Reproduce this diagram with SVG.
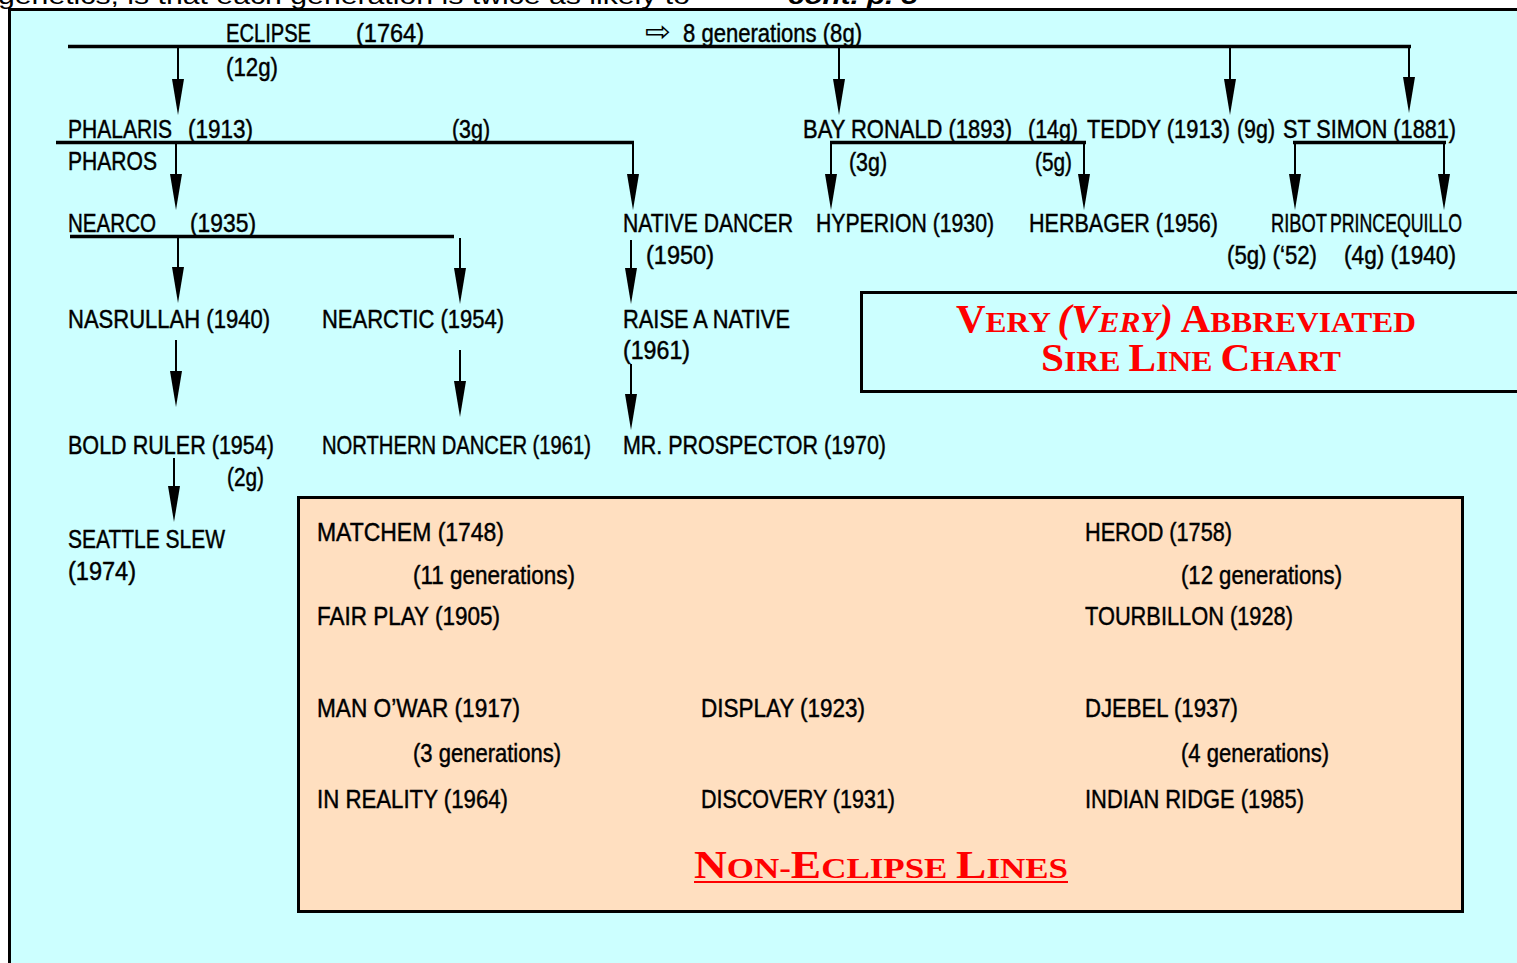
<svg xmlns="http://www.w3.org/2000/svg" width="1517" height="963" viewBox="0 0 1517 963">
<style>
.t{font-family:"Liberation Sans",Arial,sans-serif;font-size:25.5px;fill:#000;stroke:#000;stroke-width:0.45px}
.ln{stroke:#000;stroke-width:2;fill:none}
.bar{stroke:#000;stroke-width:3.5;fill:none}
.red{font-family:"Liberation Serif","Times New Roman",serif;font-weight:bold;fill:#ff0000}
</style>
<defs>
<marker id="ah" markerUnits="userSpaceOnUse" viewBox="0 0 36 12" markerWidth="36" markerHeight="12" refX="20" refY="6" orient="auto"><path d="M0,0 L36,6 L0,12 Z" fill="#000"/></marker>
<marker id="as" markerUnits="userSpaceOnUse" viewBox="0 0 25 10" markerWidth="25" markerHeight="10" refX="13" refY="5" orient="auto"><path d="M0,0 L25,5 L0,10 Z" fill="#000"/></marker>
</defs>
<rect x="0" y="0" width="1517" height="963" fill="#fff"/>
<text x="-2" y="4" font-family="Liberation Sans,Arial,sans-serif" font-size="24" textLength="692" lengthAdjust="spacingAndGlyphs">genetics, is that each generation is twice as likely to</text>
<text x="788" y="4" font-family="Liberation Sans,Arial,sans-serif" font-size="24" font-weight="bold" font-style="italic" textLength="130" lengthAdjust="spacingAndGlyphs">cont. p. 3</text>
<rect id="frame" x="9.5" y="9.5" width="1530" height="980" fill="#ccffff" stroke="#000" stroke-width="3"/>

<g id="connectors">
<line class="bar" x1="68" y1="46.5" x2="1411" y2="46.5"/>
<line class="bar" x1="56" y1="142.5" x2="634" y2="142.5"/>
<line class="bar" x1="70" y1="236.5" x2="454" y2="236.5"/>
<line class="bar" x1="830" y1="142.5" x2="1086" y2="142.5"/>
<line class="bar" x1="1293" y1="142.5" x2="1446" y2="142.5"/>
<line class="bar" x1="359" y1="636.5" x2="747" y2="636.5"/>
<g marker-end="url(#ah)">
<line class="ln" x1="178" y1="48" x2="178" y2="99"/>
<line class="ln" x1="839" y1="48" x2="839" y2="99"/>
<line class="ln" x1="1230" y1="48" x2="1230" y2="99"/>
<line class="ln" x1="1409" y1="48" x2="1409" y2="97"/>
<line class="ln" x1="176" y1="144" x2="176" y2="194"/>
<line class="ln" x1="633" y1="142" x2="633" y2="194"/>
<line class="ln" x1="831" y1="142" x2="831" y2="194"/>
<line class="ln" x1="1084" y1="142" x2="1084" y2="194"/>
<line class="ln" x1="1295" y1="142" x2="1295" y2="194"/>
<line class="ln" x1="1444" y1="142" x2="1444" y2="194"/>
<line class="ln" x1="178" y1="238" x2="178" y2="287"/>
<line class="ln" x1="460" y1="238" x2="460" y2="288"/>
<line class="ln" x1="631" y1="240" x2="631" y2="288"/>
<line class="ln" x1="176" y1="340" x2="176" y2="391"/>
<line class="ln" x1="460" y1="350" x2="460" y2="401"/>
<line class="ln" x1="631" y1="364" x2="631" y2="414"/>
<line class="ln" x1="174" y1="458" x2="174" y2="506"/>
</g>
<g marker-end="url(#as)">
<line class="ln" x1="365" y1="553" x2="365" y2="591"/>
<line class="ln" x1="361" y1="645" x2="361" y2="681"/>
<line class="ln" x1="741" y1="645" x2="741" y2="681"/>
<line class="ln" x1="359" y1="722" x2="359" y2="760"/>
<line class="ln" x1="741" y1="733" x2="741" y2="769"/>
<line class="ln" x1="1113" y1="551" x2="1113" y2="589"/>
<line class="ln" x1="1113" y1="636" x2="1113" y2="673"/>
<line class="ln" x1="1113" y1="733" x2="1113" y2="769"/>
</g>
</g>

<g id="eclipse">
<text class="t" x="226" y="42" textLength="85" lengthAdjust="spacingAndGlyphs">ECLIPSE</text>
<text class="t" x="356" y="42" textLength="68" lengthAdjust="spacingAndGlyphs">(1764)</text>
<text x="645" y="41" font-family="DejaVu Sans,sans-serif" font-size="28" textLength="26" lengthAdjust="spacingAndGlyphs">⇨</text>
<text class="t" x="683" y="42" textLength="179" lengthAdjust="spacingAndGlyphs">8 generations (8g)</text>
<text class="t" x="226" y="76" textLength="52" lengthAdjust="spacingAndGlyphs">(12g)</text>
</g>
<g id="phalaris">
<text class="t" x="68" y="138" textLength="104" lengthAdjust="spacingAndGlyphs">PHALARIS</text>
<text class="t" x="188" y="138" textLength="65" lengthAdjust="spacingAndGlyphs">(1913)</text>
<text class="t" x="452" y="138" textLength="38" lengthAdjust="spacingAndGlyphs">(3g)</text>
</g>
<g id="pharos"><text class="t" x="68" y="170" textLength="89" lengthAdjust="spacingAndGlyphs">PHAROS</text></g>
<g id="nearco">
<text class="t" x="68" y="232" textLength="88" lengthAdjust="spacingAndGlyphs">NEARCO</text>
<text class="t" x="190" y="232" textLength="66" lengthAdjust="spacingAndGlyphs">(1935)</text>
</g>
<g id="bayronald">
<text class="t" x="803" y="138" textLength="209" lengthAdjust="spacingAndGlyphs">BAY RONALD (1893)</text>
<text class="t" x="1028" y="138" textLength="50" lengthAdjust="spacingAndGlyphs">(14g)</text>
<text class="t" x="849" y="171" textLength="38" lengthAdjust="spacingAndGlyphs">(3g)</text>
<text class="t" x="1035" y="171" textLength="37" lengthAdjust="spacingAndGlyphs">(5g)</text>
</g>
<g id="teddy">
<text class="t" x="1087" y="138" textLength="143" lengthAdjust="spacingAndGlyphs">TEDDY (1913)</text>
<text class="t" x="1237" y="138" textLength="38" lengthAdjust="spacingAndGlyphs">(9g)</text>
</g>
<g id="stsimon"><text class="t" x="1283" y="138" textLength="173" lengthAdjust="spacingAndGlyphs">ST SIMON (1881)</text></g>
<g id="nativedancer">
<text class="t" x="623" y="232" textLength="170" lengthAdjust="spacingAndGlyphs">NATIVE DANCER</text>
<text class="t" x="646" y="264" textLength="68" lengthAdjust="spacingAndGlyphs">(1950)</text>
</g>
<g id="hyperion"><text class="t" x="816" y="232" textLength="178" lengthAdjust="spacingAndGlyphs">HYPERION (1930)</text></g>
<g id="herbager"><text class="t" x="1029" y="232" textLength="189" lengthAdjust="spacingAndGlyphs">HERBAGER (1956)</text></g>
<g id="ribot">
<text class="t" x="1271" y="232" textLength="56" lengthAdjust="spacingAndGlyphs">RIBOT</text>
<text class="t" x="1227" y="264" textLength="90" lengthAdjust="spacingAndGlyphs">(5g) (‘52)</text>
</g>
<g id="princequillo">
<text class="t" x="1330" y="232" textLength="132" lengthAdjust="spacingAndGlyphs">PRINCEQUILLO</text>
<text class="t" x="1344" y="264" textLength="112" lengthAdjust="spacingAndGlyphs">(4g) (1940)</text>
</g>
<g id="nasrullah"><text class="t" x="68" y="328" textLength="202" lengthAdjust="spacingAndGlyphs">NASRULLAH (1940)</text></g>
<g id="nearctic"><text class="t" x="322" y="328" textLength="182" lengthAdjust="spacingAndGlyphs">NEARCTIC (1954)</text></g>
<g id="raiseanative">
<text class="t" x="623" y="328" textLength="167" lengthAdjust="spacingAndGlyphs">RAISE A NATIVE</text>
<text class="t" x="623" y="359" textLength="67" lengthAdjust="spacingAndGlyphs">(1961)</text>
</g>
<g id="boldruler">
<text class="t" x="68" y="454" textLength="206" lengthAdjust="spacingAndGlyphs">BOLD RULER (1954)</text>
<text class="t" x="227" y="486" textLength="37" lengthAdjust="spacingAndGlyphs">(2g)</text>
</g>
<g id="northerndancer"><text class="t" x="322" y="454" textLength="269" lengthAdjust="spacingAndGlyphs">NORTHERN DANCER (1961)</text></g>
<g id="mrprospector"><text class="t" x="623" y="454" textLength="263" lengthAdjust="spacingAndGlyphs">MR. PROSPECTOR (1970)</text></g>
<g id="seattleslew">
<text class="t" x="68" y="548" textLength="157" lengthAdjust="spacingAndGlyphs">SEATTLE SLEW</text>
<text class="t" x="68" y="580" textLength="68" lengthAdjust="spacingAndGlyphs">(1974)</text>
</g>

<g id="title">
<rect x="861.5" y="292.5" width="680" height="99" fill="none" stroke="#000" stroke-width="3"/>
<text class="red" x="956" y="332" font-size="30" textLength="460" lengthAdjust="spacingAndGlyphs"><tspan font-size="39">V</tspan>ERY <tspan font-style="italic" font-size="39">(V</tspan><tspan font-style="italic">ERY</tspan><tspan font-style="italic" font-size="39">)</tspan> <tspan font-size="39">A</tspan>BBREVIATED</text>
<text class="red" x="1041" y="371" font-size="30" textLength="300" lengthAdjust="spacingAndGlyphs"><tspan font-size="39">S</tspan>IRE <tspan font-size="39">L</tspan>INE <tspan font-size="39">C</tspan>HART</text>
</g>

<g id="nonEclipse">
<rect x="298.5" y="497.5" width="1164" height="414" fill="#ffdfc0" stroke="#000" stroke-width="3"/>
<text class="red" x="694" y="878" font-size="30" textLength="374" lengthAdjust="spacingAndGlyphs"><tspan font-size="39">N</tspan>ON-<tspan font-size="39">E</tspan>CLIPSE <tspan font-size="39">L</tspan>INES</text>
<line x1="694" y1="882" x2="1068" y2="882" stroke="#ff0000" stroke-width="2"/>
</g>
<g id="matchem"><text class="t" x="317" y="541" textLength="187" lengthAdjust="spacingAndGlyphs">MATCHEM (1748)</text>
<text class="t" x="413" y="584" textLength="162" lengthAdjust="spacingAndGlyphs">(11 generations)</text></g>
<g id="fairplay"><text class="t" x="317" y="625" textLength="183" lengthAdjust="spacingAndGlyphs">FAIR PLAY (1905)</text></g>
<g id="manowar"><text class="t" x="317" y="717" textLength="203" lengthAdjust="spacingAndGlyphs">MAN O’WAR (1917)</text>
<text class="t" x="413" y="762" textLength="148" lengthAdjust="spacingAndGlyphs">(3 generations)</text></g>
<g id="inreality"><text class="t" x="317" y="808" textLength="191" lengthAdjust="spacingAndGlyphs">IN REALITY (1964)</text></g>
<g id="display"><text class="t" x="701" y="717" textLength="164" lengthAdjust="spacingAndGlyphs">DISPLAY (1923)</text></g>
<g id="discovery"><text class="t" x="701" y="808" textLength="194" lengthAdjust="spacingAndGlyphs">DISCOVERY (1931)</text></g>
<g id="herod"><text class="t" x="1085" y="541" textLength="147" lengthAdjust="spacingAndGlyphs">HEROD (1758)</text>
<text class="t" x="1181" y="584" textLength="161" lengthAdjust="spacingAndGlyphs">(12 generations)</text></g>
<g id="tourbillon"><text class="t" x="1085" y="625" textLength="208" lengthAdjust="spacingAndGlyphs">TOURBILLON (1928)</text></g>
<g id="djebel"><text class="t" x="1085" y="717" textLength="153" lengthAdjust="spacingAndGlyphs">DJEBEL (1937)</text>
<text class="t" x="1181" y="762" textLength="148" lengthAdjust="spacingAndGlyphs">(4 generations)</text></g>
<g id="indianridge"><text class="t" x="1085" y="808" textLength="219" lengthAdjust="spacingAndGlyphs">INDIAN RIDGE (1985)</text></g>
</svg>
